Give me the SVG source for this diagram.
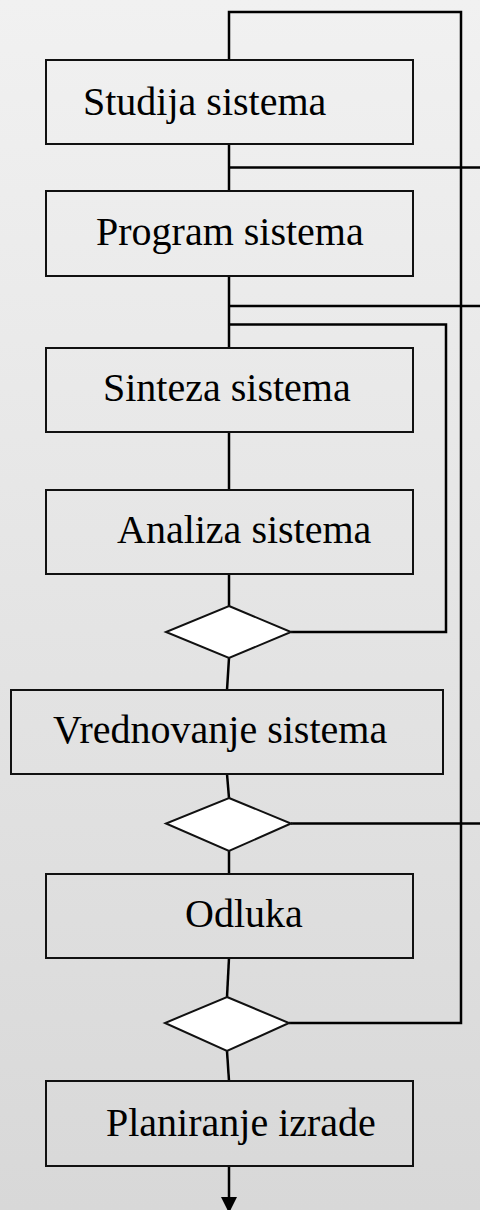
<svg xmlns="http://www.w3.org/2000/svg" width="480" height="1210" viewBox="0 0 480 1210">
<defs>
<linearGradient id="bg" x1="0" y1="0" x2="0" y2="1">
<stop offset="0" stop-color="#f1f1f1"/>
<stop offset="1" stop-color="#d8d8d8"/>
</linearGradient>
<marker id="arr" markerWidth="16" markerHeight="16" refX="15" refY="8" orient="auto" markerUnits="userSpaceOnUse" viewBox="0 0 16 16">
<path d="M0,0 L16,8 L0,16 Z" fill="#000"/>
</marker>
</defs>
<style>
.box{fill:none;stroke:#111;stroke-width:2}
.dia{fill:#fff;stroke:#111;stroke-width:2}
.lbl{font-family:"Liberation Serif","DejaVu Serif",serif;font-size:40px;fill:#000}
.c{fill:none;stroke:#000;stroke-width:2.5}
</style>
<rect width="480" height="1210" fill="url(#bg)"/>
<g id="connectors">
<polyline class="c" points="229,60 229,12 461,12 461,1023 289,1023"/>
<line class="c" x1="229" y1="144" x2="229" y2="191"/>
<line class="c" x1="229" y1="167.5" x2="480" y2="167.5"/>
<line class="c" x1="229" y1="276" x2="229" y2="348"/>
<line class="c" x1="229" y1="306" x2="480" y2="306"/>
<polyline class="c" points="229,324.5 446,324.5 446,632 291,632"/>
<line class="c" x1="229" y1="432" x2="229" y2="490"/>
<line class="c" x1="229" y1="574" x2="229" y2="606"/>
<line class="c" x1="229" y1="658" x2="227" y2="690"/>
<line class="c" x1="227" y1="774" x2="229" y2="798"/>
<line class="c" x1="291" y1="823.5" x2="480" y2="823.5"/>
<line class="c" x1="229" y1="851" x2="229" y2="874"/>
<line class="c" x1="229" y1="958" x2="227" y2="997"/>
<line class="c" x1="227" y1="1051" x2="229" y2="1081"/>
<line class="c" x1="229" y1="1166" x2="229" y2="1212" marker-end="url(#arr)"/>
</g>
<g id="n1"><rect class="box" x="46" y="60" width="367" height="84"/><text class="lbl" x="83" y="115">Studija sistema</text></g>
<g id="n2"><rect class="box" x="46" y="191" width="367" height="85"/><text class="lbl" x="96" y="245">Program sistema</text></g>
<g id="n3"><rect class="box" x="46" y="348" width="367" height="84"/><text class="lbl" x="103" y="401">Sinteza sistema</text></g>
<g id="n4"><rect class="box" x="46" y="490" width="367" height="84"/><text class="lbl" x="117" y="543">Analiza sistema</text></g>
<g id="d1"><polygon class="dia" points="229,606 291,632 229,658 166,632"/></g>
<g id="n5"><rect class="box" x="11" y="690" width="432" height="84"/><text class="lbl" x="53" y="743">Vrednovanje sistema</text></g>
<g id="d2"><polygon class="dia" points="229,798 291,823.5 229,851 166,823.5"/></g>
<g id="n6"><rect class="box" x="46" y="874" width="367" height="84"/><text class="lbl" x="185" y="927">Odluka</text></g>
<g id="d3"><polygon class="dia" points="227,997 289,1023 227,1051 165,1023"/></g>
<g id="n7"><rect class="box" x="46" y="1081" width="367" height="85"/><text class="lbl" x="106" y="1136">Planiranje izrade</text></g>
</svg>
